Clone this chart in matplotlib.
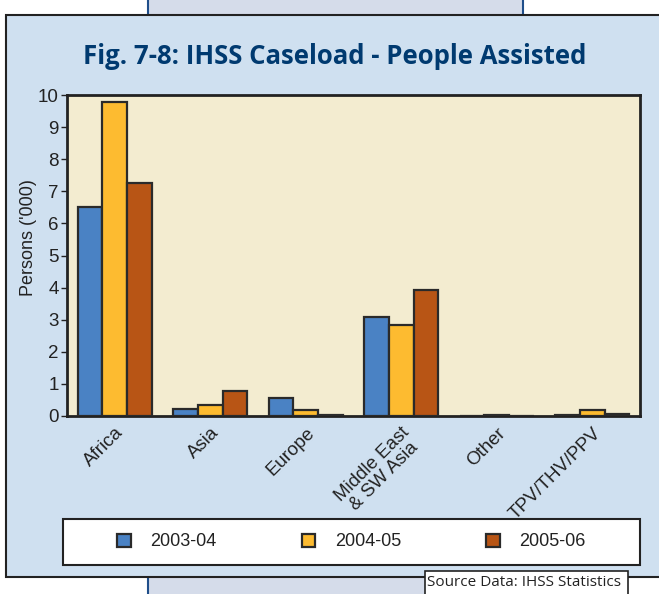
import matplotlib
matplotlib.use("Agg")
import matplotlib.pyplot as plt
from matplotlib.patches import Rectangle
import numpy as np

plt.rcParams['font.family'] = ['Liberation Sans', 'DejaVu Sans']

regions = ["Africa", "Asia", "Europe", "Middle East\n& SW Asia", "Other", "TPV/THV/PPV"]
years = ["2003-04", "2004-05", "2005-06"]
fy0304 = [6.50, 0.22, 0.55, 3.07, 0.01, 0.03]
fy0405 = [9.78, 0.35, 0.18, 2.83, 0.03, 0.18]
fy0506 = [7.27, 0.78, 0.03, 3.92, 0.01, 0.05]
colors = ["#4a82c4", "#fdbb30", "#b85515"]

W, H = 659, 594
fig = plt.figure(figsize=(W / 100, H / 100), dpi=100)
fig.patch.set_facecolor("white")

def px(x, y, w, h):
    # pixel box (top-left origin) -> figure fraction
    return (x / W, 1 - (y + h) / H, w / W, h / H)

def box(x, y, w, h, fc, ec, lw=1.5, z=0):
    l, b, ww, hh = px(x, y, w, h)
    fig.patches.append(Rectangle((l, b), ww, hh, transform=fig.transFigure,
                                 facecolor=fc, edgecolor=ec, linewidth=lw, zorder=z))

# page decoration behind the chart
box(148, -5, 375, 25, "#d5dcea", "#1f4e8a", 1.5, 0)
box(148, 570, 375, 40, "#d5dcea", "#1f4e8a", 1.5, 0)
box(6, 15, 670, 562, "#cfe0f0", "#222222", 1.5, 1)
box(425, 571, 203, 30, "white", "#222222", 1.2, 2)
fig.text(427 / W, 1 - 583 / H, "Source Data: IHSS Statistics", fontsize=11,
         family=["Open Sans", "DejaVu Sans"], color="#222222", va="center", zorder=3)

fig.text(335 / W, 1 - 56 / H, "Fig. 7-8: IHSS Caseload - People Assisted",
         fontsize=18.5, fontweight="bold", color="#003a70",
         family=["Open Sans", "DejaVu Sans"], ha="center", va="center")

ax = fig.add_axes(px(67, 95, 573, 321))
ax.set_zorder(2)
ax.set_facecolor("#f3ecd0")

x = np.arange(len(regions))
bw = 0.258
for i, (vals, c, lab) in enumerate(zip([fy0304, fy0405, fy0506], colors, years)):
    ax.bar(x + (i - 1) * bw, vals, bw, color=c, edgecolor="#2a2a2a",
           linewidth=1.6, label=lab, zorder=3)

ax.set_xlim(-0.5, len(regions) - 0.5)
ax.set_ylim(0, 10)
ax.set_yticks(range(0, 11))
ax.tick_params(axis="y", labelsize=13.5, length=4, width=1, color="#222222",
               labelcolor="#222222", pad=2)
ax.set_xticks(x)
ax.set_xticklabels(regions, rotation=45, ha="right", rotation_mode="anchor",
                   fontsize=13.5, color="#222222", linespacing=0.95, multialignment="center")
ax.tick_params(axis="x", length=0, pad=6)
for s in ax.spines.values():
    s.set_linewidth(2)
    s.set_color("#222222")
ax.set_ylabel("Persons ('000)", fontsize=13, color="#222222")
ax.yaxis.set_label_coords(-0.053, 0.555)

# legend box spans the panel width, entries spaced inside it
box(63, 519, 577, 46, "white", "#222222", 1.5, 2)
handles, labels = ax.get_legend_handles_labels()
leg = fig.legend(handles, labels, loc="center",
                 bbox_to_anchor=((63 + 577 / 2) / W, 1 - 542 / H),
                 ncol=3, frameon=False, fontsize=13,
                 handlelength=0.75, handleheight=0.75, handletextpad=1.1,
                 columnspacing=4.7, borderaxespad=0)
leg.set_zorder(3)
for t in leg.get_texts():
    t.set_color("#222222")

fig.savefig("out.png", dpi=100)
